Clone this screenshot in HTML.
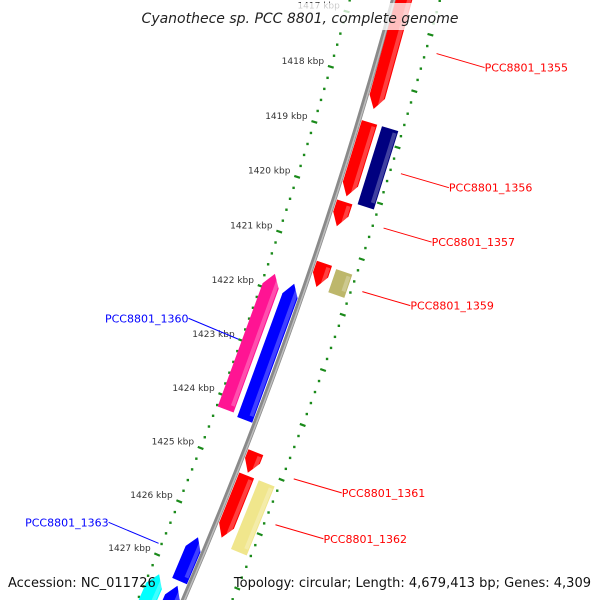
<!DOCTYPE html>
<html><head><meta charset="utf-8"><style>
html,body{margin:0;padding:0;background:#fff;overflow:hidden;}
svg{display:block;font-family:"DejaVu Sans","Liberation Sans",sans-serif;}
</style></head><body>
<svg id="map" width="600" height="600" viewBox="0 0 600 600" xmlns="http://www.w3.org/2000/svg">
<g id="ticks"></g>
<g id="genes"></g>
<g id="labels"></g>
<rect x="140" y="3" width="320" height="27" fill="#fff" opacity="0.75"/>
<text x="300" y="23" text-anchor="middle" font-size="14" font-style="italic" fill="#222">Cyanothece sp. PCC 8801, complete genome</text>
<text x="8" y="587" font-size="13" fill="#111">Accession: NC_011726</text>
<text x="591" y="587" text-anchor="end" font-size="13" fill="#111">Topology: circular; Length: 4,679,413 bp; Genes: 4,309</text>
</svg>
<script>
// data
const tickKbp = [1416,1417,1418,1419,1420,1421,1422,1423,1424,1425,1426,1427,1428,1429];
const tickLabels = ["1416 kbp","1417 kbp","1418 kbp","1419 kbp","1420 kbp","1421 kbp","1422 kbp","1423 kbp","1424 kbp","1425 kbp","1426 kbp","1427 kbp","",""];
const geneNames = ["PCC8801_1355","PCC8801_1356","PCC8801_1356b","PCC8801_1357","PCC8801_1359","PCC8801_1359b","PCC8801_1360","PCC8801_1360b","PCC8801_1361","PCC8801_1362","PCC8801_1362b","PCC8801_1363","PCC8801_1364","PCC8801_1364b"];
const geneStart = [1415.5,1418.73,1418.73,1420.16,1421.27,1421.3,1421.77,1421.72,1424.72,1425.15,1425.15,1426.45,1427.36,1427.3];
const geneEnd   = [1418.49,1420.06,1420.13,1420.6,1421.7,1421.72,1424.27,1424.22,1425.1,1426.3,1426.42,1427.27,1428.5,1428.5];
const geneStrand= [1,1,0,1,1,0,-1,-1,1,1,0,-1,-1,-1];
const geneRing  = [1,1,2,1,1,2,-1,-2,1,1,2,-1,-1,-2];
const geneColor = ["#ff0000","#ff0000","#000080","#ff0000","#ff0000","#bdb76b","#0000ff","#ff1493","#ff0000","#ff0000","#f0e68c","#0000ff","#0000ff","#00ffff"];
const labelNames = ["PCC8801_1355","PCC8801_1356","PCC8801_1357","PCC8801_1359","PCC8801_1360","PCC8801_1361","PCC8801_1362","PCC8801_1363"];
const labelKbp   = [1417.28,1419.41,1420.38,1421.52,1423.0,1424.91,1425.75,1426.81];
const labelSide  = [1,1,1,1,-1,1,1,-1];

// geometry
const CX=-3959, CY=-1186, R=4511;
const A0=16.28, K0=1418, DPK=0.738;
const NS="http://www.w3.org/2000/svg";
function ang(k){return (A0+(k-K0)*DPK)*Math.PI/180;}
function pt(k,r){const a=ang(k);return [CX+r*Math.cos(a),CY+r*Math.sin(a)];}
function mk(tag,attrs,parent){const e=document.createElementNS(NS,tag);for(const k in attrs)e.setAttribute(k,attrs[k]);parent.appendChild(e);return e;}

const svg=document.getElementById('map');
const tg=document.getElementById('ticks');
const gg=document.getElementById('genes');
const lg=document.getElementById('labels');

// backbone
const bb=mk('circle',{cx:CX,cy:CY,r:R,fill:'none',stroke:'#8a8a8a','stroke-width':5},svg);


svg.insertBefore(bb,tg);
const bb2=mk('circle',{cx:CX,cy:CY,r:R+1,fill:'none',stroke:'#bdbdbd','stroke-width':1.5},svg);


svg.insertBefore(bb2,tg);

const RIN=R-42, ROUT=R+45;
// dots
for(let i=0;i<tickKbp.length-1;i++){
  for(let j=1;j<5;j++){
    const k=tickKbp[i]+j*0.2;
    [RIN,ROUT].forEach(r=>{
      const p=pt(k,r);
      const d=mk('rect',{x:p[0]-1.2,y:p[1]-1.2,width:2.4,height:2.4,fill:'#1a8a1a'},tg);
      
      
    });
  }
}
// major ticks
tickKbp.forEach((k,i)=>{
  [RIN,ROUT].forEach(r=>{
    const a=pt(k,r-3),b=pt(k,r+3);
    const t=mk('line',{x1:a[0],y1:a[1],x2:b[0],y2:b[1],stroke:'#1a8a1a','stroke-width':2.2},tg);
    
    
  });
  if(tickLabels[i]){
    const lp=pt(k,RIN-7);
    const tx=mk('text',{x:lp[0],y:lp[1]-1,'text-anchor':'end','font-size':9,fill:'#333'},tg);
    tx.textContent=tickLabels[i];
    
    
  }
});

// genes
function ringR(ring){
  if(ring===1) return [R+3,R+19];
  if(ring===2) return [R+24,R+41];
  if(ring===-1) return [R-19,R-3];
  return [R-41,R-24];
}
geneStart.forEach((s,i)=>{
  const e=geneEnd[i], [r1,r2]=ringR(geneRing[i]), rm=(r1+r2)/2, h=0.22;
  let pts;
  if(geneStrand[i]===1){
    pts=[pt(s,r1),pt(s,r2),pt(e-h,r2),pt(e,rm),pt(e-h,r1)];
  }else if(geneStrand[i]===-1){
    pts=[pt(e,r1),pt(e,r2),pt(s+h,r2),pt(s,rm),pt(s+h,r1)];
  }else{
    pts=[pt(s,r1),pt(s,r2),pt(e,r2),pt(e,r1)];
  }
  const p=mk('polygon',{points:pts.map(q=>q[0].toFixed(1)+','+q[1].toFixed(1)).join(' '),fill:geneColor[i]},gg);
  
  
  const ra=r2-5, rb=r2-1;
  const hs=[pt(s+0.05,ra),pt(s+0.05,rb),pt(e-0.1,rb),pt(e-0.1,ra)];
  const hl=mk('polygon',{points:hs.map(q=>q[0].toFixed(1)+','+q[1].toFixed(1)).join(' '),fill:'#fff',opacity:0.25},gg);
  
  
});

// labels
labelNames.forEach((n,i)=>{
  const side=labelSide[i], k=labelKbp[i];
  const col=side===1?'#ff0000':'#0000ff';
  const a=pt(k,side===1?R+56:R-45);
  const b=side===1?[a[0]+48,a[1]+14]:[a[0]-50,a[1]-21];
  const l=mk('line',{x1:a[0],y1:a[1],x2:b[0],y2:b[1],stroke:col,'stroke-width':1},lg);
  
  
  const t=mk('text',{x:side===1?b[0]:b[0],y:b[1]+4,'text-anchor':side===1?'start':'end','font-size':11,fill:col},lg);
  t.textContent=n;
  
  
});
</script>
</body></html>
